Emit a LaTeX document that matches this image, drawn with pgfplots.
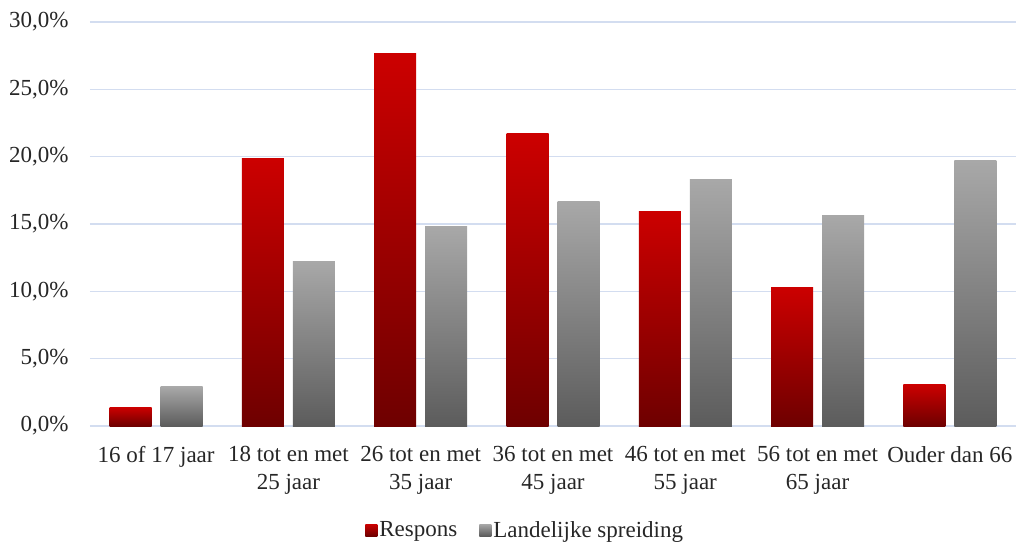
\documentclass[border=0pt]{standalone}
\usepackage{pgfplots}
\pgfplotsset{compat=1.18}
\usepackage{fontspec}
\setmainfont{Liberation Serif}
\definecolor{redtop}{HTML}{CC0000}
\definecolor{redbot}{HTML}{6E0000}
\definecolor{graytop}{HTML}{A8A8A8}
\definecolor{graybot}{HTML}{5C5C5C}
\definecolor{gridc}{HTML}{D3DDF0}
\definecolor{txt}{HTML}{262626}
\newcommand\rbar[2]{\addplot[ybar, bar width=42pt, bar shift=-25.5pt, draw=none, top color=redtop, bottom color=redbot, forget plot] coordinates {(#1,#2)};}
\newcommand\gbar[2]{\addplot[ybar, bar width=42pt, bar shift=25.5pt, draw=none, top color=graytop, bottom color=graybot, forget plot] coordinates {(#1,#2)};}
\begin{document}
\begin{tikzpicture}
\begin{axis}[
  scale only axis,
  width=926pt, height=404pt,
  at={(0,0)}, anchor=south west,
  ymin=0, ymax=30,
  xmin=-0.5, xmax=6.5,
  axis line style={draw=none},
  ymajorgrids, grid style={gridc, line width=1.4pt},
  ytick={0,5,...,30},
  major tick length=0pt,
  /pgf/number format/assume math mode=true,
  yticklabel={\pgfmathprintnumber[fixed,fixed zerofill,precision=1,use comma]{\tick}\%},
  yticklabel style={font=\fontsize{23}{28}\selectfont, text=txt, xshift=-18pt},
  xtick={0,1,2,3,4,5,6},
  xticklabels={16 of 17 jaar, 18 tot en met\\25 jaar, 26 tot en met\\35 jaar, 36 tot en met\\45 jaar, 46 tot en met\\55 jaar, 56 tot en met\\65 jaar, Ouder dan 66},
  xticklabel style={font=\fontsize{23}{28}\selectfont, text=txt, align=center, yshift=-17pt},
  legend style={at={(rel axis cs:0.47,0)}, anchor=center, yshift=-104pt, draw=none, fill=none,
    legend columns=2, font=\fontsize{23}{28}\selectfont, text=txt,
    /tikz/every even column/.append style={column sep=20pt}},
  legend image code/.code={\path[#1] (0pt,-6pt) rectangle (12pt,6pt);},
]
\addlegendimage{draw=none, top color=redtop, bottom color=redbot}
\addlegendentry{Respons}
\addlegendimage{draw=none, top color=graytop, bottom color=graybot}
\addlegendentry{Landelijke spreiding}
\rbar{0}{1.4}
\rbar{1}{19.85}
\rbar{2}{27.65}
\rbar{3}{21.7}
\rbar{4}{15.95}
\rbar{5}{10.3}
\rbar{6}{3.1}
\gbar{0}{2.9}
\gbar{1}{12.2}
\gbar{2}{14.8}
\gbar{3}{16.7}
\gbar{4}{18.3}
\gbar{5}{15.6}
\gbar{6}{19.7}
\end{axis}
\pgfresetboundingbox
\path (-90pt,-117pt) rectangle (926pt,426pt);
\end{tikzpicture}
\end{document}
